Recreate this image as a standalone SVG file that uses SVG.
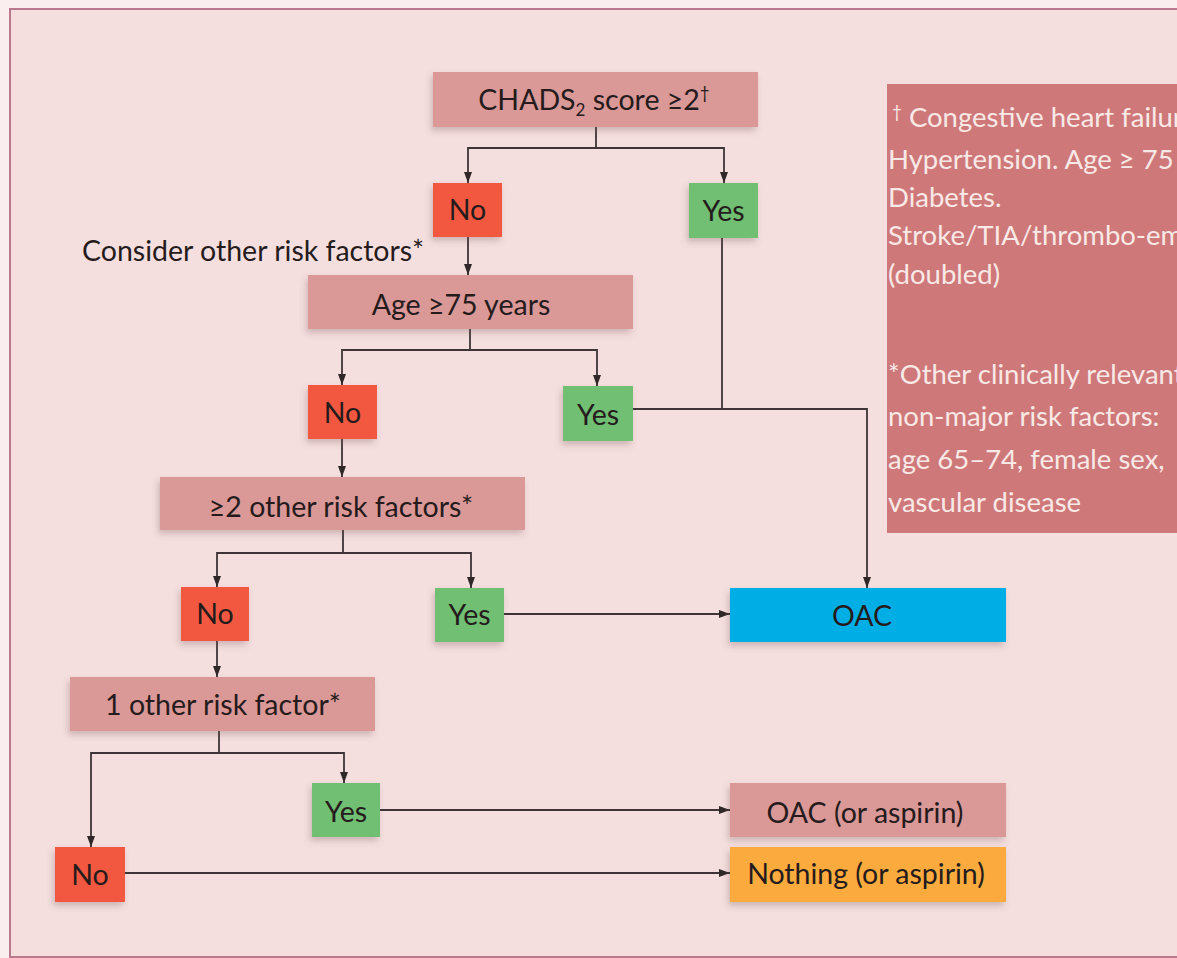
<svg xmlns="http://www.w3.org/2000/svg" width="1177" height="958" viewBox="0 0 1177 958">
<defs>
<style>
.bg{fill:#f4dfde}
.frame{fill:#f4dfde;stroke:#b9788b;stroke-width:2}
.q{fill:#da9897}
.no{fill:#f2593f}
.yes{fill:#70bf73}
.oac{fill:#02aee6}
.nothing{fill:#fbab3d}
.note{fill:#cf7879}
.lbl{font-family:Lato,"Open Sans","Liberation Sans",sans-serif;font-size:28.5px;fill:#251b1c;text-anchor:middle}
.free{font-family:Lato,"Open Sans","Liberation Sans",sans-serif;font-size:28.5px;fill:#251b1c}
.nt{font-family:Lato,"Open Sans","Liberation Sans",sans-serif;font-size:27.5px;fill:#f8e9e7}
.conn path{fill:none;stroke:#3e3536;stroke-width:1.8}
.box{filter:url(#sh)}
</style>
<filter id="sh" x="-20%" y="-20%" width="140%" height="160%">
<feDropShadow dx="-2" dy="4" stdDeviation="3" flood-color="#6e4a4a" flood-opacity="0.28"/>
</filter>
<marker id="ah" markerWidth="12" markerHeight="10" refX="11" refY="5" orient="auto" markerUnits="userSpaceOnUse">
<path d="M0,1 L11,5 L0,9 Z" fill="#2f2728"/>
</marker>
</defs>
<rect x="0" y="0" width="1177" height="958" fill="#fbeeef"/>
<rect class="frame" x="10" y="9" width="1180" height="948"/>

<g id="note">
<rect class="note" x="887" y="84" width="300" height="449"/>
<text class="nt" x="892" y="127"><tspan font-size="17" dy="-9">†</tspan><tspan dy="9"> Congestive heart failure</tspan></text>
<text class="nt" x="888" y="169">Hypertension. Age ≥ 75</text>
<text class="nt" x="888" y="207">Diabetes.</text>
<text class="nt" x="888" y="245">Stroke/TIA/thrombo-emb</text>
<text class="nt" x="888" y="284">(doubled)</text>
<text class="nt" x="888" y="384">*Other clinically relevant</text>
<text class="nt" x="888" y="426">non-major risk factors:</text>
<text class="nt" x="888" y="469">age 65–74, female sex,</text>
<text class="nt" x="888" y="512">vascular disease</text>
</g>

<g class="conn" id="connectors">
<path d="M596 127 V148 H468 V183" marker-end="url(#ah)"/>
<path d="M596 148 H724 V183" marker-end="url(#ah)"/>
<path d="M468 237 V275" marker-end="url(#ah)"/>
<path d="M470 329 V350 H342 V385" marker-end="url(#ah)"/>
<path d="M470 350 H597 V386" marker-end="url(#ah)"/>
<path d="M342 439 V477" marker-end="url(#ah)"/>
<path d="M343 530 V553 H217 V587" marker-end="url(#ah)"/>
<path d="M343 553 H471 V588" marker-end="url(#ah)"/>
<path d="M217 641 V677" marker-end="url(#ah)"/>
<path d="M219 731 V753 H91 V847" marker-end="url(#ah)"/>
<path d="M219 753 H344 V783" marker-end="url(#ah)"/>
<path d="M722 238 V409"/>
<path d="M633 409 H867 V588" marker-end="url(#ah)"/>
<path d="M504 614 H730" marker-end="url(#ah)"/>
<path d="M380 810 H730" marker-end="url(#ah)"/>
<path d="M125 873 H730" marker-end="url(#ah)"/>
</g>

<g id="chads">
<rect class="q box" x="433" y="72" width="325" height="55"/>
<text class="lbl" x="594" y="110">CHADS<tspan font-size="17" dy="6">2</tspan><tspan dy="-6"> score ≥2</tspan><tspan font-size="17" dy="-11">†</tspan></text>
</g>
<g id="no1">
<rect class="no box" x="433" y="183" width="69" height="54"/>
<text class="lbl" x="467.5" y="220">No</text>
</g>
<g id="yes1">
<rect class="yes box" x="689" y="183" width="69" height="55"/>
<text class="lbl" x="723.5" y="221">Yes</text>
</g>
<g id="consider">
<text class="free" x="82" y="261">Consider other risk factors*</text>
</g>
<g id="age">
<rect class="q box" x="308" y="275" width="325" height="54"/>
<text class="lbl" x="461" y="315">Age ≥75 years</text>
</g>
<g id="no2">
<rect class="no box" x="308" y="385" width="69" height="54"/>
<text class="lbl" x="342.5" y="423">No</text>
</g>
<g id="yes2">
<rect class="yes box" x="563" y="386" width="70" height="55"/>
<text class="lbl" x="598" y="425">Yes</text>
</g>
<g id="two">
<rect class="q box" x="160" y="477" width="365" height="53"/>
<text class="lbl" x="341" y="517">≥2 other risk factors*</text>
</g>
<g id="no3">
<rect class="no box" x="181" y="587" width="68" height="54"/>
<text class="lbl" x="215" y="624">No</text>
</g>
<g id="yes3">
<rect class="yes box" x="435" y="588" width="69" height="54"/>
<text class="lbl" x="469.5" y="625">Yes</text>
</g>
<g id="oac">
<rect class="oac box" x="730" y="588" width="276" height="54"/>
<text class="lbl" x="862" y="626">OAC</text>
</g>
<g id="one">
<rect class="q box" x="70" y="677" width="305" height="54"/>
<text class="lbl" x="223" y="715">1 other risk factor*</text>
</g>
<g id="yes4">
<rect class="yes box" x="312" y="783" width="68" height="54"/>
<text class="lbl" x="346" y="822">Yes</text>
</g>
<g id="oacasp">
<rect class="q box" x="730" y="783" width="276" height="54"/>
<text class="lbl" x="865" y="823">OAC (or aspirin)</text>
</g>
<g id="no4">
<rect class="no box" x="55" y="847" width="70" height="55"/>
<text class="lbl" x="90" y="885">No</text>
</g>
<g id="nothing">
<rect class="nothing box" x="730" y="847" width="276" height="55"/>
<text class="lbl" x="866" y="884">Nothing (or aspirin)</text>
</g>
</svg>
